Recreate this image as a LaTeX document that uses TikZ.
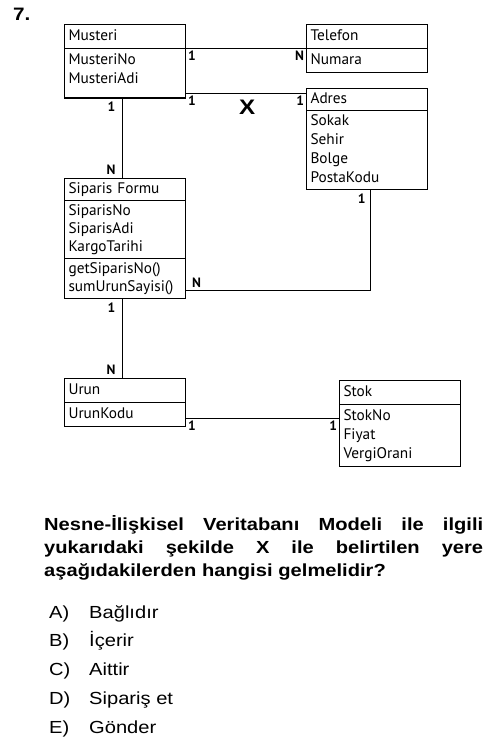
\documentclass[tikz,border=0pt]{standalone}
\usepackage{fontspec}
\usepackage{tikz}
\usetikzlibrary{positioning,shapes}
\newfontfamily\diafont{PT Sans}
\newfontfamily\qfont[FakeStretch=1.15]{Liberation Sans}
\tikzstyle{entity}=[rectangle split, rectangle split parts=2, draw=black, line width=1.1pt,
anchor=north west, text width=113pt, inner xsep=4pt, inner ysep=2pt, align=left,
font=\diafont\fontsize{15.3}{19}\selectfont]
\tikzstyle{card}=[font=\diafont\bfseries\fontsize{13.5}{13.5}\selectfont, inner sep=1.5pt]
\tikzstyle{link}=[line width=1.2pt]
\tikzstyle{question}=[anchor=base west, inner sep=0pt, text width=439pt, align=left,
font=\qfont\bfseries\fontsize{17.5}{23}\selectfont]
\tikzstyle{answer}=[anchor=base west, inner sep=0pt, font=\qfont\fontsize{17.5}{20}\selectfont]

\begin{document}
\begin{tikzpicture}[x=1pt, y=-1pt]
\useasboundingbox (0,0) rectangle (500,741);

\node (num)[anchor=base west, inner sep=0pt, font=\qfont\bfseries\fontsize{18}{18}\selectfont] at (13,21) {7.};

% classes
\node (musteri)[entity] at (64,24)
    {
        Musteri\strut
        \nodepart{second} MusteriNo\strut\\
                          MusteriAdi\strut\raisebox{0pt}[0pt][12pt]{}
    };
\node (telefon)[entity] at (306,24)
    {
        Telefon\strut
        \nodepart{second} Numara\strut
    };
\node (adres)[entity, inner ysep=1pt] at (306,88)
    {
        Adres\strut
        \nodepart{second} Sokak\strut\\
                          Sehir\strut\\
                          Bolge\strut\\
                          PostaKodu\strut
    };
\node (siparis)[entity, rectangle split parts=3, inner ysep=1pt] at (64,178)
    {
        Siparis Formu\strut
        \nodepart{second} SiparisNo\strut\\[-1pt]
                          SiparisAdi\strut\\[-1pt]
                          KargoTarihi\strut
        \nodepart{third}  getSiparisNo()\strut\\[-1pt]
                          sumUrunSayisi()\strut
    };
\node (urun)[entity] at (64,378)
    {
        Urun\strut
        \nodepart{second} UrunKodu\strut
    };
\node (stok)[entity] at (339,380)
    {
        Stok\strut
        \nodepart{second} StokNo\strut\\
                          Fiyat\strut\\
                          VergiOrani\strut
    };

% relations
\draw[link] (musteri.one split east)
    -- node (mt1)[card, pos=0, below right] {1}
       node (mt2)[card, pos=1, below left] {N} (telefon.one split west |- musteri.one split east);
\draw[link] ([yshift=5pt]musteri.south east) coordinate (ma)
    -- node (ma1)[card, pos=0, below right] {1}
       node (ma2)[card, pos=1, below left] {1}
       node (x)[pos=0.51, below=6pt, inner sep=0pt, font=\qfont\bfseries\fontsize{21}{21}\selectfont] {X} (ma -| adres.west);
\draw[link] ([xshift=-2.55pt]musteri.south)
    -- node (ms1)[card, pos=0, below left=1pt and 5pt] {1}
       node (ms2)[card, pos=1, above left=1pt and 5pt] {N} ([xshift=-2.55pt]siparis.north);
\draw[link] ([yshift=9pt]siparis.south east) coordinate (sa)
    -| node (sa1)[card, pos=0, above right=1pt and 4pt] {N}
       node (sa2)[card, pos=1, below left=1pt and 3pt] {1} ([xshift=3.45pt]adres.south);
\draw[link] ([xshift=-2.55pt]siparis.south)
    -- node (su1)[card, pos=0, below left=1pt and 5pt] {1}
       node (su2)[card, pos=1, above left=1pt and 5pt] {N} ([xshift=-2.55pt]urun.north);
\draw[link] ([yshift=9pt]urun.south east) coordinate (us)
    -- node (us1)[card, pos=0, below right] {1}
       node (us2)[card, pos=1, below left] {1} (us -| stok.west);

% question
\node (q)[question] at (44,530)
    {
        \leavevmode\hbox to 439pt{Nesne-İlişkisel\hfill Veritabanı\hfill Modeli\hfill ile\hfill ilgili}\\
        \leavevmode\hbox to 439pt{yukarıdaki\hfill şekilde\hfill X\hfill ile\hfill belirtilen\hfill yere}\\
        aşağıdakilerden hangisi gelmelidir?
    };

\foreach \l/\t [count=\i] in {A/Bağlıdır, B/İçerir, C/Aittir, D/Sipariş et, E/Gönder}
{
    \node (l\i)[answer] at (49,{589.2+28.8*\i}) {\l)};
    \node (o\i)[answer] at (89,{589.2+28.8*\i}) {\t};
}
\end{tikzpicture}
\end{document}
